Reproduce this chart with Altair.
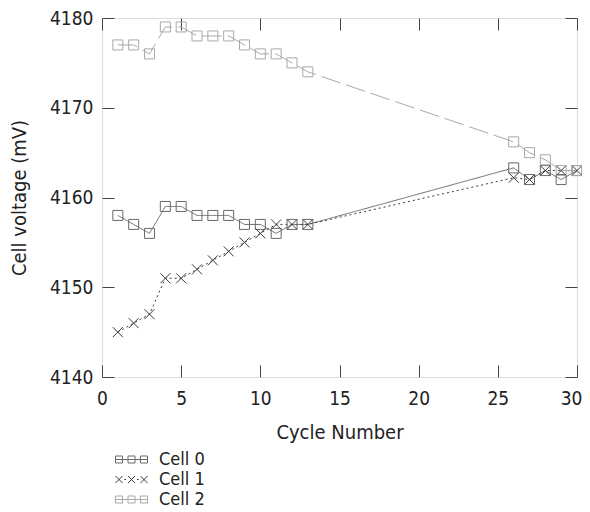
import altair as alt
import pandas as pd

cycles = [1, 2, 3, 4, 5, 6, 7, 8, 9, 10, 11, 12, 13, 26, 27, 28, 29, 30]
cell0 = [4158, 4157, 4156, 4159, 4159, 4158, 4158, 4158, 4157, 4157, 4156, 4157, 4157, 4163.3, 4162, 4163, 4162, 4163]
cell1 = [4145, 4146, 4147, 4151, 4151, 4152, 4153, 4154, 4155, 4156, 4157, 4157, 4157, 4162.2, 4162, 4163, 4163, 4163]
cell2 = [4177, 4177, 4176, 4179, 4179, 4178, 4178, 4178, 4177, 4176, 4176, 4175, 4174, 4166.2, 4165, 4164.2, 4163, 4163]
series = ["Cell 0", "Cell 1", "Cell 2"]
colors = ["#6a6a6a", "#3a3a3a", "#a9a9a9"]
dashes = [[1, 0], [2, 3], [20, 6]]
x_ticks = [0, 5, 10, 15, 20, 25, 30]
y_ticks = [4140, 4150, 4160, 4170, 4180]

rows = []
for name, vals in zip(series, [cell0, cell1, cell2]):
    for c, v in zip(cycles, vals):
        rows.append({"Cycle": c, "Voltage": v, "Cell": name})
df = pd.DataFrame(rows)

FONT = "DejaVu Sans Condensed"
W, H = 475, 359

X_PATH = "M-1,-1L1,1M-1,1L1,-1"
LEG_SQ = ("M-1.6,-0.35H-0.9V0.35H-1.6ZM-0.35,-0.35H0.35V0.35H-0.35Z"
          "M0.9,-0.35H1.6V0.35H0.9ZM-1.6,0H1.6")
LEG_X = ("M-1.6,-0.35L-0.9,0.35M-1.6,0.35L-0.9,-0.35"
         "M-0.35,-0.35L0.35,0.35M-0.35,0.35L0.35,-0.35"
         "M0.9,-0.35L1.6,0.35M0.9,0.35L1.6,-0.35"
         "M-0.72,0L-0.55,0M0.55,0L0.72,0")

xscale = alt.Scale(domain=[0, 30], nice=False, zero=False)
yscale = alt.Scale(domain=[4140, 4180], nice=False, zero=False)
cscale = alt.Scale(domain=series, range=colors)

base = alt.Chart(df)

x_bottom = alt.X("Cycle:Q", scale=xscale, title="Cycle Number",
                 axis=alt.Axis(orient="bottom", values=x_ticks, offset=-12, tickSize=12,
                               domain=False, grid=False, labelPadding=12, tickColor="#444",
                               labelFlush=False, format="d",
                               labelOffset=alt.condition("datum.value == 30", alt.value(-6), alt.value(0)),
                               labelFontSize=19, titleFontSize=20, labelFont=FONT,
                               titleFont=FONT, titleFontWeight="normal", titlePadding=14,
                               labelColor="#222", titleColor="#222"))
y_left = alt.Y("Voltage:Q", scale=yscale, title="Cell voltage (mV)",
               axis=alt.Axis(orient="left", values=y_ticks, offset=-12, tickSize=12,
                             domain=False, grid=False, labelPadding=9, tickColor="#444",
                             labelFlush=False, format="d",
                             labelFontSize=19, titleFontSize=20, labelFont=FONT,
                             titleFont=FONT, titleFontWeight="normal", titlePadding=20,
                             labelColor="#222", titleColor="#222"))
x_top = alt.X("Cycle:Q", scale=xscale, title=None,
              axis=alt.Axis(orient="top", values=x_ticks, offset=-12, tickSize=12,
                            domain=False, grid=False, labels=False, tickColor="#444"))
y_right = alt.Y("Voltage:Q", scale=yscale, title=None,
                axis=alt.Axis(orient="right", values=y_ticks, offset=-12, tickSize=12,
                              domain=False, grid=False, labels=False, tickColor="#444"))

lines = base.mark_line(strokeWidth=1).encode(
    x=x_bottom, y=y_left,
    color=alt.Color("Cell:N", scale=cscale, legend=None),
    strokeDash=alt.StrokeDash("Cell:N", scale=alt.Scale(domain=series, range=dashes), legend=None),
    detail="Cell:N",
)

points = base.mark_point(filled=False, size=100, strokeWidth=1, opacity=1).encode(
    x=x_top, y=y_right,
    color=alt.Color("Cell:N", scale=cscale, legend=None),
    shape=alt.Shape("Cell:N", scale=alt.Scale(domain=series, range=["square", X_PATH, "square"]), legend=None),
)

leg = dict(title=None, orient="none", legendX=19, legendY=431,
           symbolSize=400, labelFontSize=18, labelFont=FONT,
           labelOffset=17, rowPadding=0, padding=0,
           symbolStrokeWidth=1, labelColor="#222")

legend_layer = base.mark_point(filled=False, size=0, strokeWidth=1, opacity=1).encode(
    x=alt.X("Cycle:Q", scale=xscale, axis=None),
    y=alt.Y("Voltage:Q", scale=yscale, axis=None),
    color=alt.Color("Cell:N", scale=cscale, legend=alt.Legend(**leg)),
    shape=alt.Shape("Cell:N", scale=alt.Scale(domain=series, range=[LEG_SQ, LEG_X, LEG_SQ]),
                    legend=alt.Legend(**leg)),
)

chart = alt.layer(lines, points, legend_layer).resolve_axis(
    x="independent", y="independent"
).resolve_scale(color="independent", shape="independent").properties(
    width=W, height=H,
    autosize=alt.AutoSizeParams(type="none"),
    padding={"left": 94, "top": 10, "right": 5, "bottom": 136},
).configure_view(stroke="#444", strokeWidth=1.5).configure(background="white")

chart.save("out.html", embed_options={"renderer": "svg", "actions": False})
